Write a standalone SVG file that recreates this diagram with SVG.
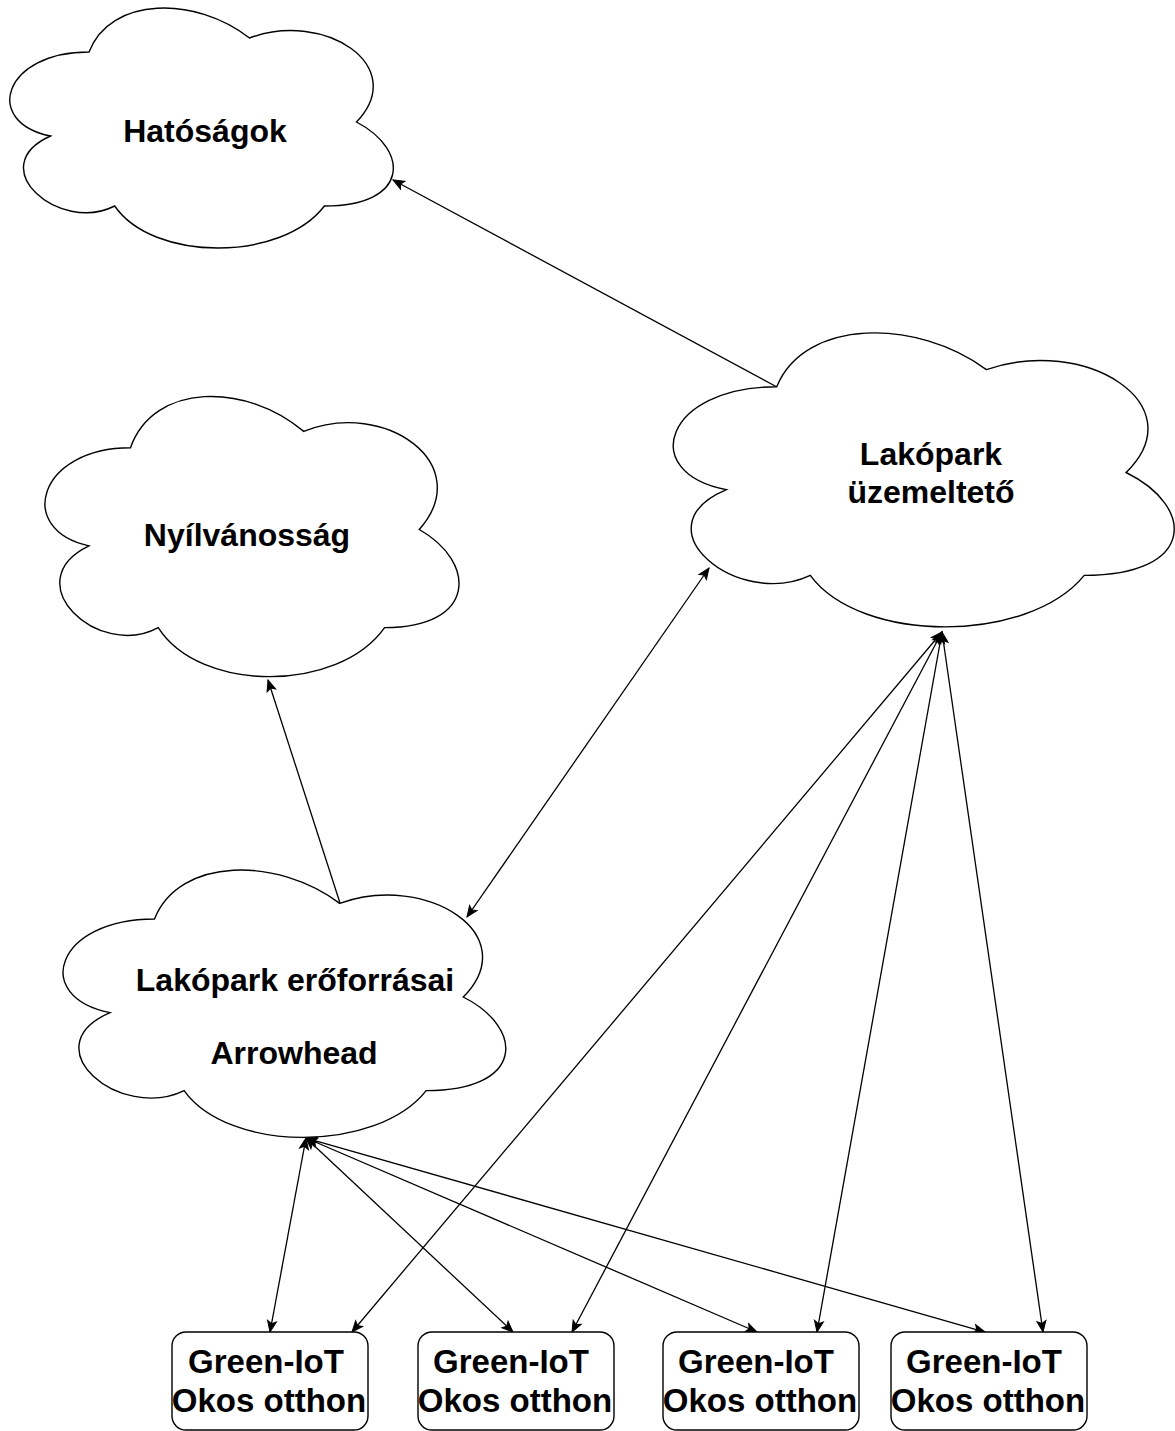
<svg xmlns="http://www.w3.org/2000/svg" width="1175" height="1431" viewBox="0 0 1175 1431">
  <style>
    .cloud { fill: #ffffff; stroke: #000000; stroke-width: 1.4; }
    .box { fill: #ffffff; stroke: #000000; stroke-width: 1.4; }
    .lbl { font-family: "Liberation Sans", Arial, sans-serif; font-weight: bold; fill: #000000; text-anchor: middle; }
    .cl { font-size: 32px; }
    .bl { font-size: 33px; }
    .edge { fill: none; stroke: #000000; stroke-width: 1.3; }
    .one { marker-end: url(#arrow); }
    .both { marker-start: url(#arrow); marker-end: url(#arrow); }
  </style>
  <defs>
    <marker id="arrow" markerUnits="userSpaceOnUse" markerWidth="12" markerHeight="10" refX="11" refY="4.5" orient="auto-start-reverse" overflow="visible">
      <path d="M0,0 L11,4.5 L0,9 L2.5,4.5 Z" fill="#000000" stroke="#000000" stroke-width="1"/>
    </marker>
  </defs>
  <rect width="1175" height="1431" fill="#ffffff"/>

  <!-- connectors -->
  <g id="edges">
    <line class="edge one" x1="777" y1="387" x2="393" y2="180"/>
    <line class="edge one" x1="340" y1="903" x2="268" y2="680"/>
    <line class="edge both" x1="467" y1="917" x2="709" y2="568"/>
    <!-- operator to homes -->
    <line class="edge both" x1="942" y1="632" x2="352" y2="1332"/>
    <line class="edge both" x1="942" y1="632" x2="572" y2="1332"/>
    <line class="edge both" x1="942" y1="632" x2="817" y2="1332"/>
    <line class="edge both" x1="942" y1="632" x2="1043" y2="1332"/>
    <!-- resources to homes -->
    <line class="edge both" x1="306" y1="1138" x2="270" y2="1332"/>
    <line class="edge both" x1="306" y1="1138" x2="513" y2="1332"/>
    <line class="edge both" x1="306" y1="1138" x2="757" y2="1332"/>
    <line class="edge both" x1="306" y1="1138" x2="985" y2="1332"/>
  </g>

  <g id="hatosagok">
    <path class="cloud" d="M89,52 C3.4,52 -18,122 50.5,136 C-18,166.8 59,234 114.7,206 C153.2,262 281.6,262 324.4,206 C410,206 410,150 356.5,122 C410,66 324.4,10 249.5,38 C196,-4 110.4,-4 89,52 Z"/>
    <text class="lbl cl" x="205" y="142">Hatóságok</text>
  </g>

  <g id="uzemelteto">
    <path class="cloud" d="M776.75,386.75 C664.95,386.75 637,472.5 726.44,489.65 C637,527.38 737.62,609.7 810.29,575.4 C860.6,644 1028.3,644 1084.2,575.4 C1196,575.4 1196,506.8 1126.1,472.5 C1196,403.9 1084.2,335.3 986.4,369.6 C916.5,318.15 804.7,318.15 776.75,386.75 Z"/>
    <text class="lbl cl" x="931" y="465">Lakópark</text>
    <text class="lbl cl" x="931" y="503">üzemeltető</text>
  </g>

  <g id="nyilvanossag">
    <path class="cloud" d="M130.5,447.75 C38.1,447.75 15,529.5 88.92,545.85 C15,581.82 98.16,660.3 158.22,627.6 C199.8,693 338.4,693 384.6,627.6 C477,627.6 477,562.2 419.25,529.5 C477,464.1 384.6,398.7 303.75,431.4 C246,382.35 153.6,382.35 130.5,447.75 Z"/>
    <text class="lbl cl" x="247" y="546">Nyílvánosság</text>
  </g>

  <g id="eroforrasai">
    <path class="cloud" d="M154.5,919 C55.7,919 31,997 110.04,1012.6 C31,1046.92 119.92,1121.8 184.14,1090.6 C228.6,1153 376.8,1153 426.2,1090.6 C525,1090.6 525,1028.2 463.25,997 C525,934.6 426.2,872.2 339.75,903.4 C278,856.6 179.2,856.6 154.5,919 Z"/>
    <text class="lbl cl" x="295" y="991">Lakópark erőforrásai</text>
    <text class="lbl cl" x="294" y="1064">Arrowhead</text>
  </g>

  <g id="home1">
    <rect class="box" x="172" y="1332" width="196" height="98" rx="14"/>
    <text class="lbl bl" x="266" y="1373">Green-IoT</text>
    <text class="lbl bl" x="269" y="1412">Okos otthon</text>
  </g>
  <g id="home2">
    <rect class="box" x="418" y="1332" width="196" height="98" rx="14"/>
    <text class="lbl bl" x="511" y="1373">Green-IoT</text>
    <text class="lbl bl" x="515" y="1412">Okos otthon</text>
  </g>
  <g id="home3">
    <rect class="box" x="663" y="1332" width="196" height="98" rx="14"/>
    <text class="lbl bl" x="756" y="1373">Green-IoT</text>
    <text class="lbl bl" x="760" y="1412">Okos otthon</text>
  </g>
  <g id="home4">
    <rect class="box" x="891" y="1332" width="196" height="98" rx="14"/>
    <text class="lbl bl" x="984" y="1373">Green-IoT</text>
    <text class="lbl bl" x="988" y="1412">Okos otthon</text>
  </g>
</svg>
